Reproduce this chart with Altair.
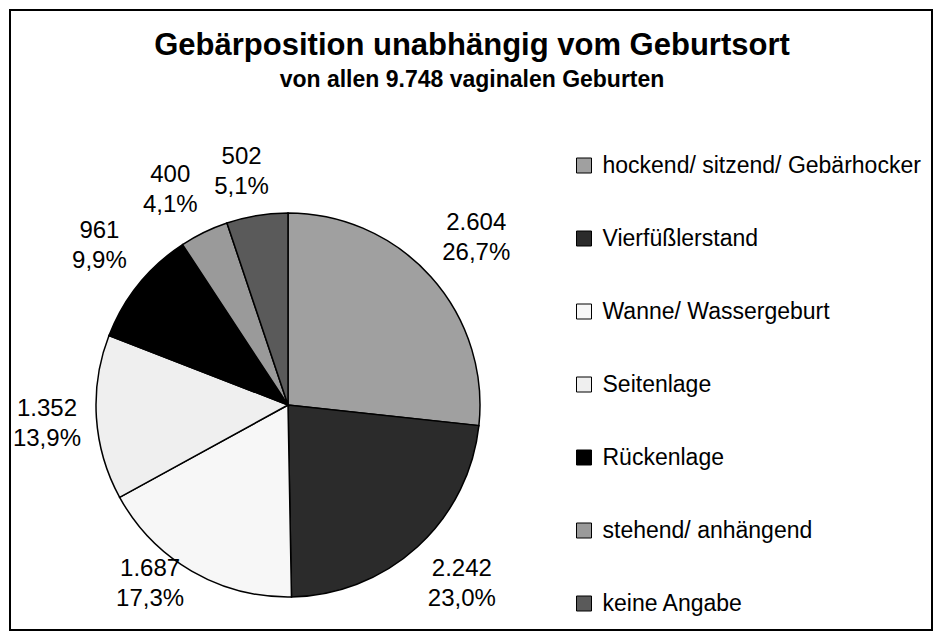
import altair as alt
import pandas as pd

# ---- data ----
categories = [
    "hockend/ sitzend/ Gebärhocker",
    "Vierfüßlerstand",
    "Wanne/ Wassergeburt",
    "Seitenlage",
    "Rückenlage",
    "stehend/ anhängend",
    "keine Angabe",
]
values = [2604, 2242, 1687, 1352, 961, 400, 502]
pct_labels = ["26,7%", "23,0%", "17,3%", "13,9%", "9,9%", "4,1%", "5,1%"]
colors = ["#a0a0a0", "#2b2b2b", "#f7f7f7", "#efefef", "#000000", "#9a9a9a", "#5a5a5a"]

title_text = "Gebärposition unabhängig vom Geburtsort"
subtitle_text = "von allen 9.748 vaginalen Geburten"

FONT = "Liberation Sans"

df = pd.DataFrame({
    "cat": categories,
    "value": values,
    "order": list(range(len(categories))),
    "num": [f"{v:,}".replace(",", ".") for v in values],
    "pct": pct_labels,
})
df["label"] = df["num"] + "\n" + df["pct"]

# layout constants (view coordinates)
CX, CY, R = 278, 395, 192
GAP = 16          # gap between pie edge and label box
HALF_H = 28       # half height of two-line label box
CHAR_W = 6.7      # half-width per character of label
YMAX = 574        # keep labels inside chart area
XMIN = 36
LINE_H = 30

W, H = 922, 620

pie = alt.Chart(df).mark_arc(outerRadius=R, stroke="black", strokeWidth=1.5).encode(
    theta=alt.Theta("value:Q", stack=True),
    order=alt.Order("order:Q"),
    fill=alt.Fill(
        "cat:N",
        scale=alt.Scale(domain=categories, range=colors),
        legend=alt.Legend(
            title=None,
            orient="none",
            legendX=562.5,
            legendY=144,
            padding=0,
            symbolType="square",
            symbolSize=225,
            symbolStrokeColor="black",
            symbolStrokeWidth=1,
            symbolOpacity=1,
            labelFont=FONT,
            labelFontSize=23,
            labelColor="black",
            labelLimit=500,
            labelOffset=7,
            rowPadding=49,
        ),
    ),
    x=alt.value(CX),
    y=alt.value(CY),
)

labels = alt.Chart(df).transform_joinaggregate(
    total="sum(value)"
).transform_window(
    cum="sum(value)", sort=[alt.SortField("order")], frame=[None, 0]
).transform_calculate(
    mid="(datum.cum - datum.value/2) / datum.total * 2 * PI",
).transform_calculate(
    ux="sin(datum.mid)",
    uy="-cos(datum.mid)",
    hw=f"max(length(datum.pct), length(datum.num)) * {CHAR_W}",
).transform_calculate(
    lx=f"max({CX} + {R + GAP} * datum.ux + datum.hw * clamp(3 * datum.ux, -1, 1), {XMIN})",
    ly=f"min({CY} + {R + GAP} * datum.uy + {HALF_H} * clamp(3 * datum.uy, -1, 1), {YMAX})",
).mark_text(
    font=FONT, fontSize=24, color="black", lineBreak="\n", lineHeight=LINE_H,
    align="center", baseline="middle", dy=-LINE_H / 2,
).encode(
    x=alt.X("lx:Q", scale=None),
    y=alt.Y("ly:Q", scale=None),
    text="label:N",
)

title = alt.Chart(pd.DataFrame({"t": [title_text]})).mark_text(
    font=FONT, fontSize=31, fontWeight="bold", color="black", align="center", baseline="alphabetic"
).encode(x=alt.value(462), y=alt.value(45), text="t:N")

subtitle = alt.Chart(pd.DataFrame({"t": [subtitle_text]})).mark_text(
    font=FONT, fontSize=23, fontWeight="bold", color="black", align="center", baseline="alphabetic"
).encode(x=alt.value(462), y=alt.value(77), text="t:N")

chart = alt.layer(pie, labels, title, subtitle).properties(
    width=W,
    height=H,
    padding={"left": 2, "top": 2, "right": 2, "bottom": 2},
    autosize=alt.AutoSizeParams(type="none"),
    background="white",
).configure_view(stroke="black", strokeWidth=2)

chart.save("out.html", embed_options={"renderer": "svg", "actions": False})
